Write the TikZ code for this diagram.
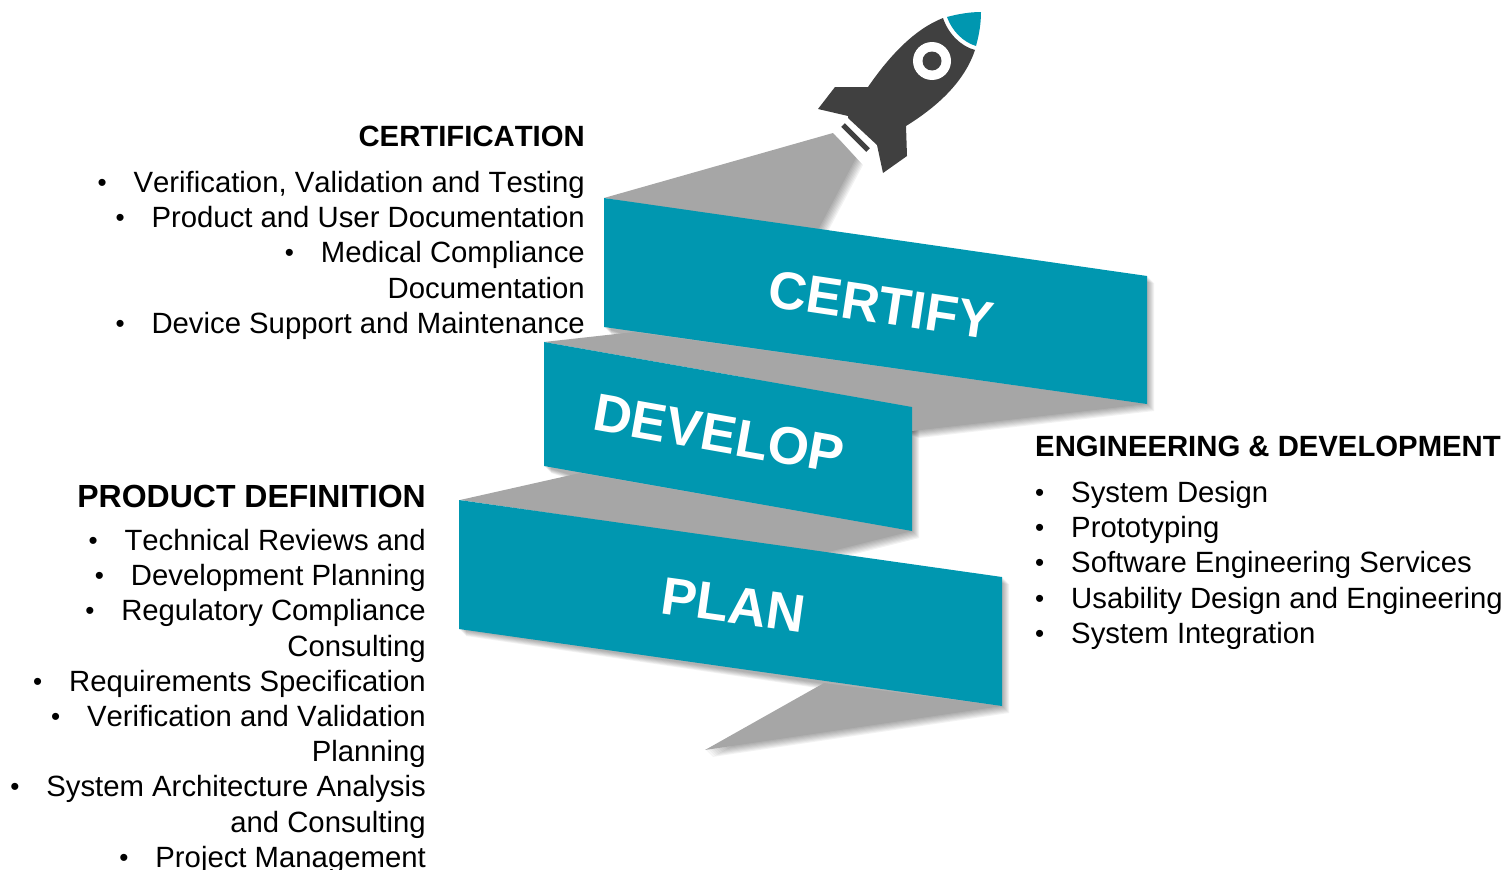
\documentclass[tikz,border=0pt]{standalone}
\usepackage{fontspec}
\setmainfont[Kerning=Off]{Liberation Sans}
\usetikzlibrary{positioning}
\definecolor{ribbonteal}{HTML}{0097B0}
\definecolor{foldgrey}{HTML}{A6A6A6}
\definecolor{rocketdark}{HTML}{404040}
\newcommand{\bul}{\makebox[36pt][l]{\fontsize{26}{26}\selectfont\raisebox{1pt}{•}}}
\begin{document}
\begin{tikzpicture}[x=1pt,y=-1pt,
    ribbon/.style={fill=ribbonteal},
    fold/.style={fill=foldgrey},
    soft/.style={fill=black,opacity=0.05},
    title node/.style={anchor=north east,font=\fontsize{29.3}{35}\bfseries\selectfont,inner sep=0pt},
    list node/.style={align=right,font=\fontsize{29.3}{35.2}\selectfont,inner sep=0pt},
    band label/.style={text=white,font=\fontsize{53}{60}\bfseries\selectfont,inner sep=0pt}
    ]
  \useasboundingbox (0,0) rectangle (1508,870);

  % soft shadows under the folds and bands
  \foreach \d in {1,2,...,7} {
    \fill[soft,xshift=\d pt,yshift=-\d pt] (604,198) -- (833,133) -- (856,158) -- (818,230) -- cycle;
    \fill[soft,xshift=\d pt,yshift=-\d pt] (604,198) -- (1147,276) -- (1147,404) -- (912,431) -- (604,327) -- cycle;
    \fill[soft,xshift=\d pt,yshift=-\d pt] (544,342) -- (912,407) -- (912,531) -- (824,553) -- (544,466) -- cycle;
    \fill[soft,xshift=\d pt,yshift=-\d pt] (459,500) -- (1002,577) -- (1002,706) -- (705,750) -- (824,683) -- (459,629) -- cycle;
  }

  % grey folds
  \fill[fold] (604,198) -- (833,133) -- (856,158) -- (818,230) -- cycle;
  \fill[fold] (544,342) -- (634,332) -- (1147,404) -- (912,431) -- (912,407) -- cycle;
  \fill[fold] (460,500) -- (580,473) -- (912,531) -- (824,553) -- cycle;
  \fill[fold] (705,750) -- (824,683) -- (1002,706) -- cycle;

  % bands
  \fill[ribbon] (604,198) -- (1147,276) -- (1147,404) -- (604,327) -- cycle;
  \fill[ribbon] (544,342) -- (912,407) -- (912,531) -- (544,466) -- cycle;
  \fill[ribbon] (459,500) -- (1002,577) -- (1002,706) -- (459,629) -- cycle;

  \node[band label,rotate=-8.5] (certify) at (881,305) {CERTIFY};
  \node[band label,rotate=-10] (develop) at (719,434) {DEVELOP};
  \node[band label,rotate=-8] (plan) at (733,605) {PLAN};

  % rocket
  \fill[rocketdark] (943,18) .. controls (915,29) and (890,55) .. (868,87) -- (835,87) -- (818,109) -- (848,116)
    -- (848,118) -- (877,145) -- (883,173) -- (907,156) -- (906,126)
    .. controls (940,105) and (965,80) .. (975,50) .. controls (960,46) and (948,33) .. cycle;
  \fill[ribbonteal] (947,17) .. controls (958,14) and (970,12) .. (981,12) .. controls (981,24) and (979,35) .. (976,46)
    .. controls (963,42) and (952,31) .. cycle;
  \fill[white] (932,61) circle (19);
  \fill[rocketdark] (932,61) circle (9.5);
  \draw[rocketdark,line width=5pt] (843,125) -- (868,150);

  % certification text
  \node[title node] (certhead) at (585,126) {CERTIFICATION};
  \node[list node,below=24pt of certhead.south east,anchor=north east] (certlist) {%
    \bul Verification, Validation and Testing\\
    \bul Product and User Documentation\\
    \bul Medical Compliance\\
    Documentation\\
    \bul Device Support and Maintenance};

  % product definition text
  \node[title node,font=\fontsize{32}{37}\bfseries\selectfont] (defhead) at (426,485) {PRODUCT DEFINITION};
  \node[list node,below=21pt of defhead.south east,anchor=north east] (deflist) {%
    \bul Technical Reviews and\\
    \bul Development Planning\\
    \bul Regulatory Compliance\\
    Consulting\\
    \bul Requirements Specification\\
    \bul Verification and Validation\\
    Planning\\
    \bul System Architecture Analysis\\
    and Consulting\\
    \bul Project Management};

  % engineering text
  \node[title node,anchor=north west] (enghead) at (1035,436) {ENGINEERING \& DEVELOPMENT};
  \node[list node,align=left,below=24pt of enghead.south west,anchor=north west] (englist) {%
    \bul System Design\\
    \bul Prototyping\\
    \bul Software Engineering Services\\
    \bul Usability Design and Engineering\\
    \bul System Integration};
\end{tikzpicture}
\end{document}
